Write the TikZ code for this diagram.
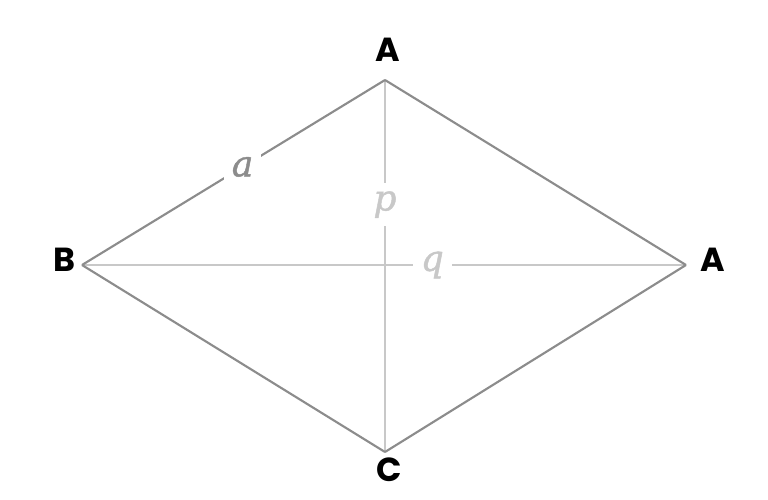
\documentclass[tikz,border=0pt]{standalone}
\usepackage{fontspec}
\setmainfont{Poppins}
\newfontfamily\lenfont[FakeBold=1.2]{DejaVu Serif}
\definecolor{edgegray}{HTML}{8C8C8C}
\definecolor{diaggray}{HTML}{C8C8C8}
\begin{document}
\begin{tikzpicture}[x=0.75pt,y=0.75pt,yscale=-1,xscale=1,
  vlabel/.style={font=\fontsize{25}{28}\selectfont\bfseries},
  side/.style={draw=edgegray,line width=1.6pt},
  diag/.style={draw=diaggray,line width=1.6pt},
  lenlabel/.style={font=\fontsize{27}{30}\selectfont\lenfont\itshape,fill=white,inner sep=6pt}]
\useasboundingbox (0,0) rectangle (768,500);

% Corners
\coordinate (top) at (385,80);
\coordinate (left) at (82,265);
\coordinate (right) at (686,265);
\coordinate (bot) at (385,452);

% Diagonals
\draw [diag] (top) -- (bot) node [pos=0.335,lenlabel,text=diaggray] (plab) {p};
\draw [diag] (left) -- (right) node [pos=0.58,lenlabel,text=diaggray] (qlab) {q};

% Sides
\draw [side] (left) -- (top) node [pos=0.53,lenlabel,text=edgegray] (alab) {a};
\draw [side] (top) -- (right);
\draw [side] (right) -- (bot);
\draw [side] (bot) -- (left);

% Text Node
\node [vlabel] (ntop) at (388,50) {A};
% Text Node
\node [vlabel] (nleft) at (64,260) {B};
% Text Node
\node [vlabel] (nright) at (713,260) {A};
% Text Node
\node [vlabel] (nbot) at (389,470) {C};

\end{tikzpicture}
\end{document}
